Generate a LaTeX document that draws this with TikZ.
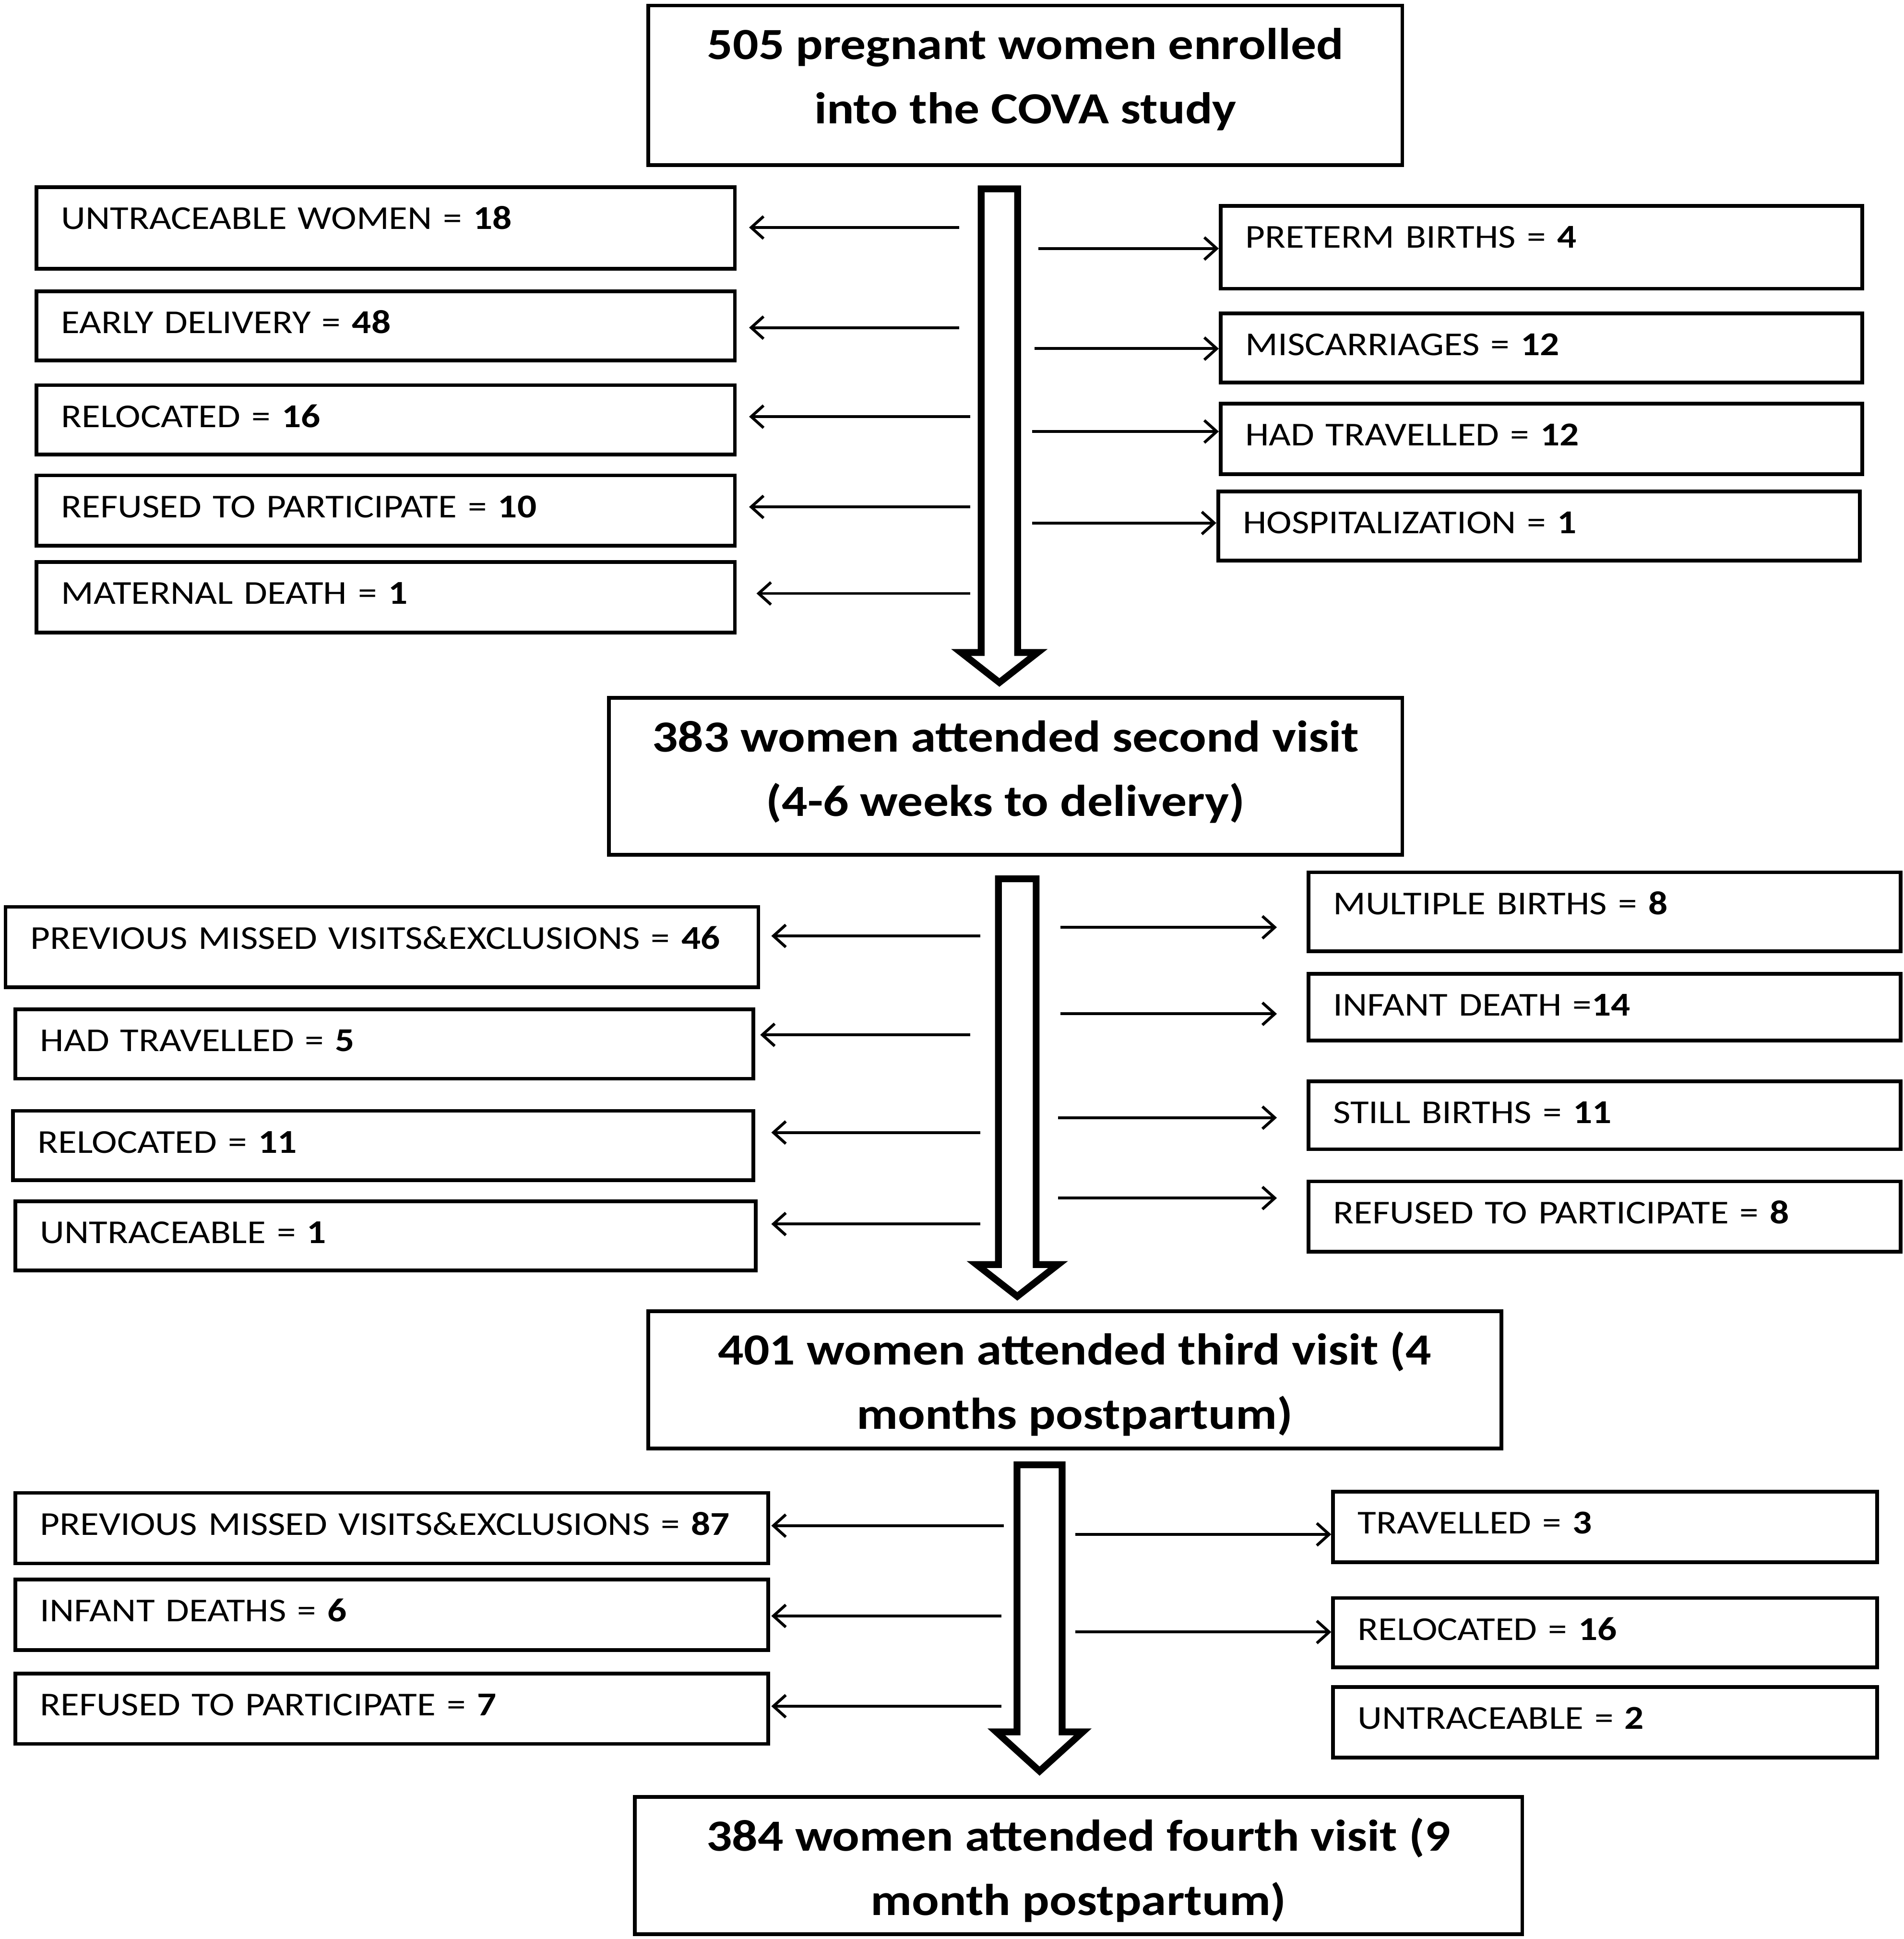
\documentclass[tikz,border=0pt]{standalone}
\usepackage{fontspec}
\setmainfont{Carlito}[FakeStretch=1.14]
\usetikzlibrary{arrows.meta}

\begin{document}
\begin{tikzpicture}[x=1pt, y=-1pt,
    visit/.style={draw, line width=3pt, anchor=north west, align=center, font=\fontsize{36}{52}\selectfont\bfseries},
    item/.style={draw, line width=3pt, anchor=north west, inner xsep=20pt, inner ysep=0pt, align=left, font=\fontsize{27}{32}\selectfont, text height=34pt},
    flow/.style={draw, line width=5.5pt, fill=white, miter limit=4},
    side/.style={line width=2.3pt, -{Straight Barb[length=10pt,width=18pt]}}]
	\useasboundingbox (0,0) rectangle (1540,1568.3);

	% visits
	\node[visit, minimum width=610pt, minimum height=129pt] (v1) at (523,3) {\raisebox{-5pt}[0pt][0pt]{505 pregnant women enrolled}\\\raisebox{-5pt}[0pt][0pt]{into the COVA study}};
	\node[visit, minimum width=642pt, minimum height=127pt] (v2) at (491,563) {\raisebox{-6pt}[0pt][0pt]{383 women attended second visit}\\\raisebox{-6pt}[0pt][0pt]{(4-6 weeks to delivery)}};
	\node[visit, minimum width=690pt, minimum height=111pt] (v3) at (523,1059) {\raisebox{-14pt}[0pt][0pt]{401 women attended third visit (4}\\\raisebox{-14pt}[0pt][0pt]{months postpartum)}};
	\node[visit, minimum width=718pt, minimum height=111pt] (v4) at (512,1452) {\raisebox{-14pt}[0pt][0pt]{384 women attended fourth visit (9}\\\raisebox{-14pt}[0pt][0pt]{month postpartum)}};

	% big arrows between visits
	\draw[flow] (793.75,152.75) -- (823.25,152.75) -- (823.25,527.75) -- (839.5,527.75) -- (808.5,552) -- (777.5,527.75) -- (793.75,527.75) -- cycle;
	\draw[flow] (807.75,710.75) -- (838.25,710.75) -- (838.25,1022.75) -- (856,1022.75) -- (823,1048.5) -- (790,1022.75) -- (807.75,1022.75) -- cycle;
	\draw[flow] (822.75,1184.75) -- (859.25,1184.75) -- (859.25,1400.75) -- (876,1400.75) -- (841,1432.5) -- (806,1400.75) -- (822.75,1400.75) -- cycle;

	% first stage
	\node[item, text width=525pt, text depth=32pt] (u1) at (28,150) {UNTRACEABLE WOMEN = \textbf{18}};
	\node[item, text width=525pt, text depth=22pt] (u2) at (28,234) {EARLY DELIVERY = \textbf{48}};
	\node[item, text width=525pt, text depth=22pt] (u3) at (28,310) {RELOCATED = \textbf{16}};
	\node[item, text width=525pt, text depth=23pt] (u4) at (28,383) {REFUSED TO PARTICIPATE = \textbf{10}};
	\node[item, text width=525pt, text depth=23pt] (u5) at (28,453) {MATERNAL DEATH = \textbf{1}};
	\node[item, text width=479pt, text depth=33pt] (r1) at (986,165) {PRETERM BIRTHS = \textbf{4}};
	\node[item, text width=479pt, text depth=22pt] (r2) at (986,252) {MISCARRIAGES = \textbf{12}};
	\node[item, text width=479pt, text depth=23pt] (r3) at (986,325) {HAD TRAVELLED = \textbf{12}};
	\node[item, text width=479pt, text depth=22pt] (r4) at (984,396) {HOSPITALIZATION = \textbf{1}};

	% second stage
	\node[item, text width=569pt, text depth=31pt] (m1) at (3,732) {PREVIOUS MISSED VISITS\&EXCLUSIONS = \textbf{46}};
	\node[item, text width=557pt, text depth=22pt] (m2) at (11,815) {HAD TRAVELLED = \textbf{5}};
	\node[item, text width=559pt, text depth=22pt] (m3) at (9,897) {RELOCATED = \textbf{11}};
	\node[item, text width=559pt, text depth=22pt] (m4) at (11,970) {UNTRACEABLE = \textbf{1}};
	\node[item, text width=439pt, text depth=30pt] (n1) at (1057,704) {MULTIPLE BIRTHS = \textbf{8}};
	\node[item, text width=439pt, text depth=20pt] (n2) at (1057,786) {INFANT DEATH =\textbf{14}};
	\node[item, text width=439pt, text depth=21pt] (n3) at (1057,873) {STILL BIRTHS = \textbf{11}};
	\node[item, text width=439pt, text depth=23pt] (n4) at (1057,954) {REFUSED TO PARTICIPATE = \textbf{8}};

	% third stage
	\node[item, text width=569pt, text depth=23pt] (p1) at (11,1206) {PREVIOUS MISSED VISITS\&EXCLUSIONS = \textbf{87}};
	\node[item, text width=569pt, text depth=23pt] (p2) at (11,1276) {INFANT DEATHS = \textbf{6}};
	\node[item, text width=569pt, text depth=23pt] (p3) at (11,1352) {REFUSED TO PARTICIPATE = \textbf{7}};
	\node[item, text width=400pt, text depth=23pt] (q1) at (1077,1205) {TRAVELLED = \textbf{3}};
	\node[item, text width=400pt, text depth=22pt] (q2) at (1077,1291) {RELOCATED = \textbf{16}};
	\node[item, text width=400pt, text depth=23pt] (q3) at (1077,1363) {UNTRACEABLE = \textbf{2}};

	% side arrows
	\foreach \xs/\y/\b/\g in {776/184/u1/10pt, 776/265/u2/10pt, 785/337/u3/10pt, 785/410/u4/10pt, 785/480/u5/16pt,
	                          793/757/m1/9pt, 785/837/m2/4pt, 793/916/m3/13pt, 793/990/m4/11pt,
	                          812/1234/p1/1pt, 810/1307/p2/1pt, 810/1380/p3/1pt}{
		\coordinate (s) at (\xs,\y);
		\draw[side, shorten >=\g] (s) -- (s -| \b.east);
	}
	\foreach \xs/\y/\b/\g in {840/201/r1/0pt, 837/282/r2/0pt, 835/349/r3/0pt, 835/423/r4/0pt,
	                          858/750/n1/24pt, 858/820/n2/24pt, 856/904/n3/24pt, 856/969/n4/24pt,
	                          870/1241/q1/0pt, 870/1320/q2/0pt}{
		\coordinate (s) at (\xs,\y);
		\draw[side, shorten >=\g] (s) -- (s -| \b.west);
	}
\end{tikzpicture}
\end{document}
